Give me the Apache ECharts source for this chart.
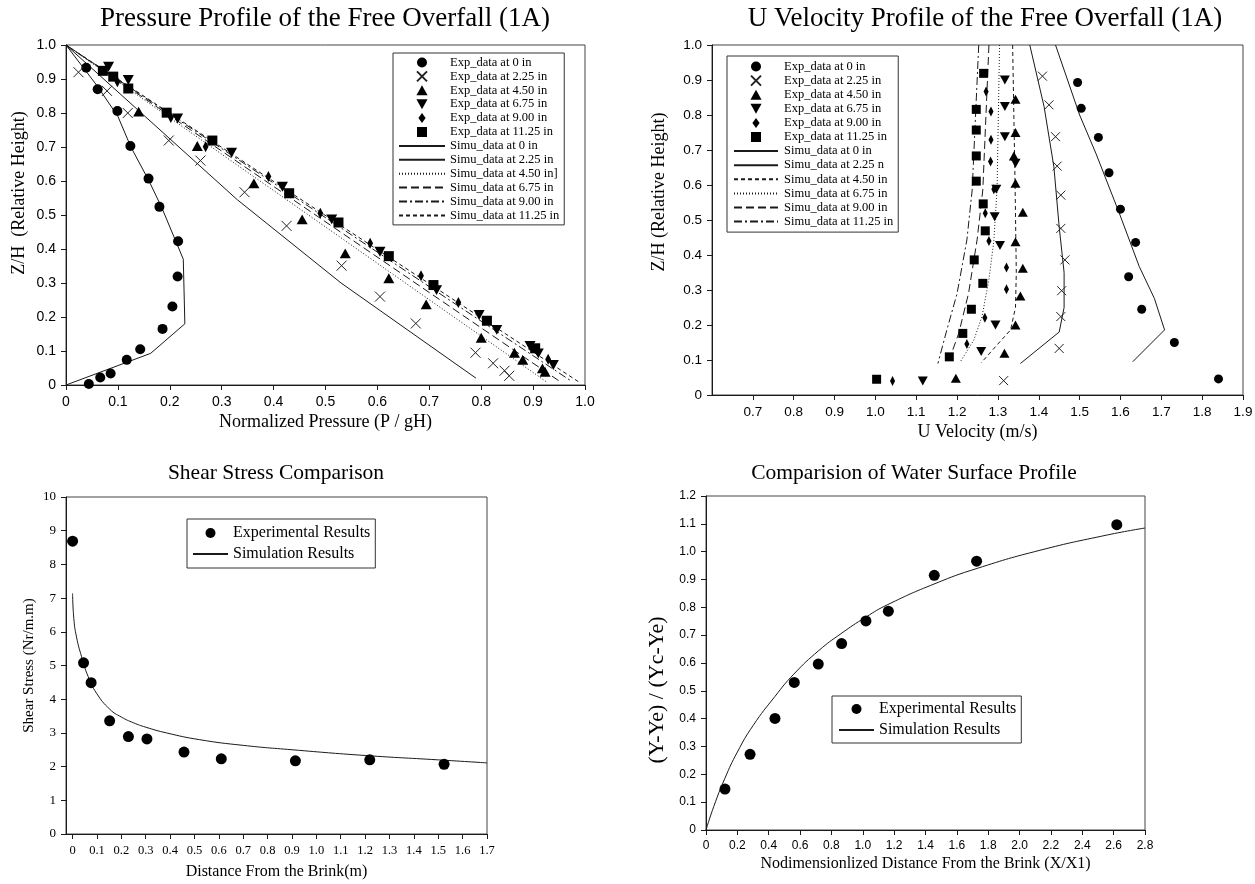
<!DOCTYPE html>
<html>
<head>
<meta charset="utf-8">
<script src="https://cdn.jsdelivr.net/npm/echarts@6.0.0/dist/echarts.min.js"></script>
<style>
  html, body { margin: 0; padding: 0; background: #fff; }
  #main { width: 1255px; height: 884px; }
</style>
</head>
<body>
<div id="main"></div>
<script>
// ---- Pressure profile (top left): [P/gH, Z/H]
var expA0 = [[0.039,0.933],[0.061,0.870],[0.099,0.806],[0.124,0.703],[0.159,0.607],[0.180,0.524],[0.216,0.423],[0.215,0.319],[0.205,0.231],[0.186,0.165],[0.143,0.105],[0.117,0.074],[0.086,0.034],[0.066,0.022],[0.044,0.003]];
var expA1 = [[0.024,0.920],[0.079,0.865],[0.119,0.800],[0.198,0.719],[0.259,0.660],[0.344,0.567],[0.425,0.468],[0.531,0.351],[0.605,0.260],[0.674,0.181],[0.789,0.095],[0.823,0.064],[0.845,0.042],[0.854,0.027]];
var expA2 = [[0.140,0.804],[0.253,0.703],[0.362,0.593],[0.455,0.487],[0.538,0.387],[0.622,0.314],[0.694,0.237],[0.800,0.139],[0.864,0.095],[0.880,0.074],[0.918,0.049],[0.923,0.039]];
var expA3 = [[0.082,0.936],[0.120,0.897],[0.215,0.784],[0.319,0.683],[0.417,0.583],[0.512,0.487],[0.605,0.392],[0.714,0.279],[0.796,0.206],[0.830,0.162],[0.894,0.115],[0.910,0.093],[0.939,0.059]];
var expA4 = [[0.099,0.892],[0.202,0.787],[0.269,0.701],[0.390,0.613],[0.490,0.505],[0.586,0.417],[0.684,0.321],[0.756,0.243],[0.929,0.076]];
var expA5 = [[0.071,0.924],[0.091,0.907],[0.120,0.872],[0.194,0.801],[0.282,0.719],[0.430,0.564],[0.525,0.478],[0.622,0.379],[0.708,0.294],[0.811,0.189],[0.904,0.108]];
var simA0 = [[0,1],[0.06,0.88],[0.10,0.79],[0.125,0.70],[0.16,0.60],[0.185,0.52],[0.226,0.37],[0.229,0.18],[0.163,0.093],[0,0]];
var simA1 = [[0,1],[0.33,0.545],[0.53,0.30],[0.79,0.02]];
var simA2 = [[0,1],[0.925,0.01]];
var simA3 = [[0,1],[0.952,0.01]];
var simA4 = [[0,1],[0.975,0.01]];
var simA5 = [[0,1],[0.987,0.01]];

// ---- U velocity profile (top right): [U, Z/H]
var expB0 = [[1.495,0.893],[1.504,0.819],[1.546,0.736],[1.572,0.635],[1.600,0.531],[1.637,0.436],[1.620,0.338],[1.652,0.245],[1.732,0.150],[1.840,0.046]];
var expB1 = [[1.409,0.911],[1.425,0.829],[1.441,0.738],[1.445,0.654],[1.454,0.571],[1.454,0.476],[1.464,0.386],[1.456,0.298],[1.454,0.224],[1.450,0.133],[1.314,0.041]];
var expB2 = [[1.343,0.845],[1.343,0.750],[1.339,0.683],[1.343,0.605],[1.361,0.522],[1.343,0.438],[1.361,0.362],[1.355,0.283],[1.343,0.200],[1.316,0.119],[1.197,0.048]];
var expB3 = [[1.317,0.900],[1.317,0.824],[1.317,0.738],[1.343,0.662],[1.296,0.588],[1.292,0.509],[1.305,0.427],[1.294,0.200],[1.259,0.124],[1.116,0.040]];
var expB4 = [[1.271,0.867],[1.283,0.810],[1.283,0.729],[1.282,0.667],[1.290,0.588],[1.269,0.519],[1.278,0.440],[1.321,0.364],[1.321,0.302],[1.268,0.221],[1.224,0.146],[1.042,0.040]];
var expB5 = [[1.265,0.919],[1.247,0.816],[1.247,0.757],[1.247,0.683],[1.247,0.611],[1.264,0.546],[1.269,0.469],[1.242,0.386],[1.263,0.319],[1.235,0.245],[1.214,0.176],[1.181,0.109],[1.003,0.045]];
var simB0 = [[1.441,1.0],[1.50,0.80],[1.54,0.69],[1.597,0.52],[1.646,0.367],[1.683,0.276],[1.708,0.186],[1.63,0.095]];
var simB1 = [[1.378,1.0],[1.413,0.824],[1.437,0.652],[1.45,0.48],[1.462,0.35],[1.462,0.25],[1.45,0.18],[1.355,0.09]];
var simB2 = [[1.336,1.0],[1.342,0.6],[1.345,0.35],[1.343,0.25],[1.331,0.186],[1.294,0.138],[1.259,0.092]];
var simB3 = [[1.304,1.0],[1.298,0.59],[1.29,0.44],[1.278,0.33],[1.261,0.224],[1.241,0.157],[1.208,0.095]];
var simB4 = [[1.278,1.0],[1.263,0.586],[1.249,0.443],[1.228,0.29],[1.204,0.176],[1.179,0.095]];
var simB5 = [[1.253,1.0],[1.237,0.586],[1.224,0.443],[1.20,0.29],[1.175,0.186],[1.153,0.09]];

// ---- Shear stress (bottom left): [distance m, stress]
var expC = [[0,8.69],[0.045,5.08],[0.076,4.49],[0.152,3.36],[0.229,2.89],[0.305,2.82],[0.457,2.43],[0.61,2.23],[0.914,2.17],[1.219,2.2],[1.524,2.07]];
var simC = [[0,7.14],[0.005,6.4],[0.016,5.85],[0.037,5.26],[0.064,4.67],[0.098,4.18],[0.153,3.70],[0.2,3.47],[0.25,3.30],[0.3,3.17],[0.385,3.0],[0.52,2.8],[0.7,2.63],[0.9,2.5],[1.2,2.33],[1.5,2.2],[1.7,2.11]];
var ticksC = [0,0.1,0.2,0.3,0.4,0.5,0.6,0.7,0.8,0.9,1.0,1.1,1.2,1.3,1.4,1.5,1.6,1.7];

// ---- Water surface (bottom right): [X/X1, (Y-Ye)/(Yc-Ye)]
var expD = [[0.121,0.147],[0.281,0.272],[0.44,0.401],[0.563,0.53],[0.716,0.596],[0.865,0.67],[1.02,0.751],[1.163,0.786],[1.456,0.915],[1.726,0.966],[2.62,1.097]];
var simD = [[0,0],[0.05,0.085],[0.12,0.185],[0.2,0.28],[0.3,0.375],[0.44,0.48],[0.56,0.56],[0.72,0.645],[0.86,0.705],[1.02,0.765],[1.16,0.81],[1.46,0.885],[1.73,0.94],[2.13,1.005],[2.56,1.06],[2.8,1.085]];

var SERIF = '"Liberation Serif", "Times New Roman", serif';
var SANS = '"Liberation Sans", Arial, sans-serif';
var INK = '#000';
var LINE = '#1a1a1a';

// marker shapes as paths so the legend keeps their proportions
var X_MARK = 'path://M0,0L10,10M10,0L0,10';
var UP_TRI = 'path://M5,0L10,9L0,9Z';
var DOWN_TRI = 'path://M0,0L10,0L5,9Z';
var DIAMOND = 'path://M4,0L8,5.5L4,11L0,5.5Z';
var SQUARE = 'path://M0,0L10,0L10,10L0,10Z';

function fmt1(v) {
  return Math.abs(v) < 1e-9 ? '0' : v.toFixed(1);
}

function exp(name, data, idx, symbol, size) {
  var s = {
    name: name, type: 'scatter', xAxisIndex: idx, yAxisIndex: idx,
    data: data, symbol: symbol, symbolSize: size, symbolKeepAspect: true, z: 5,
    itemStyle: { color: INK, opacity: 1 }
  };
  if (symbol === X_MARK) {
    s.itemStyle = { color: 'rgba(0,0,0,0)', borderColor: '#222', borderWidth: 1, opacity: 1 };
  }
  return s;
}

function sim(name, data, idx, dash, smooth) {
  return {
    name: name, type: 'line', xAxisIndex: idx, yAxisIndex: idx,
    data: data, symbol: 'none', smooth: smooth || false, z: 3,
    lineStyle: { color: LINE, width: 1, type: dash || 'solid' },
    itemStyle: { color: LINE }
  };
}

function axis(idx, min, max, interval, font, size, extra) {
  var a = {
    type: 'value', gridIndex: idx, min: min, max: max, interval: interval,
    axisLine: { show: true, onZero: false, lineStyle: { color: LINE, width: 1 } },
    axisTick: { show: true, inside: false, length: 5, lineStyle: { color: LINE } },
    splitLine: { show: false },
    axisLabel: { color: INK, fontFamily: font, fontSize: size, margin: 10, formatter: fmt1 },
    nameLocation: 'middle'
  };
  for (var k in extra) a[k] = extra[k];
  return a;
}

// line entries get no marker in the legend
function legendNames(names) {
  return names.map(function (n) {
    return n.indexOf('Simu') >= 0 || n.indexOf('Simulation') >= 0
      ? { name: n, itemStyle: { opacity: 0 } } : { name: n };
  });
}

function legend(left, top, names, fontSize, itemWidth, itemGap, pad, textGap) {
  return {
    left: left, top: top, orient: 'vertical', data: legendNames(names),
    selectedMode: false, itemWidth: itemWidth, itemHeight: 10,
    itemGap: itemGap, padding: pad,
    borderColor: '#333', borderWidth: 1, backgroundColor: '#fff',
    textStyle: { color: INK, fontFamily: SERIF, fontSize: fontSize, padding: [0, 0, 0, textGap] },
    formatter: function (n) { return n.slice(2); }
  };
}

var namesA = ['A|Exp_data at 0 in','A|Exp_data at 2.25 in','A|Exp_data at 4.50 in','A|Exp_data at 6.75 in','A|Exp_data at 9.00 in','A|Exp_data at 11.25 in',
  'A|Simu_data at 0 in','A|Simu_data at 2.25 in','A|Simu_data at 4.50 in]','A|Simu_data at 6.75 in','A|Simu_data at 9.00 in','A|Simu_data at 11.25 in'];
var namesB = ['B|Exp_data at 0 in','B|Exp_data at 2.25 in','B|Exp_data at 4.50 in','B|Exp_data at 6.75 in','B|Exp_data at 9.00 in','B|Exp_data at 11.25 in',
  'B|Simu_data at 0 in','B|Simu_data at 2.25 n','B|Simu_data at 4.50 in','B|Simu_data at 6.75 in','B|Simu_data at 9.00 in','B|Simu_data at 11.25 in'];
var namesC = ['C|Experimental Results', 'C|Simulation Results'];
var namesD = ['D|Experimental Results', 'D|Simulation Results'];

var DOT = [1, 2], LONG = [8, 4], DASHDOT = [8, 3, 2, 3], SHORT = [4, 3];

function titleText(text, left, top, size) {
  return { text: text, left: left, top: top, textAlign: 'center', padding: 0,
    textStyle: { fontFamily: SERIF, fontWeight: 'normal', fontSize: size, color: INK } };
}

function nameStyle(size, pad) {
  return { color: INK, fontFamily: SERIF, fontSize: size, padding: pad || 0 };
}

var chart = echarts.init(document.getElementById('main'), null, { renderer: 'canvas' });

chart.setOption({
  backgroundColor: '#fff',
  animation: false,
  title: [
    titleText('Pressure Profile of the Free Overfall (1A)', 325, 5, 27),
    titleText('U Velocity Profile of the Free Overfall (1A)', 985, 5, 27),
    titleText('Shear Stress Comparison', 276, 462, 21.5),
    titleText('Comparision of Water Surface Profile', 914, 462, 21.5)
  ],
  grid: [
    { left: 66, top: 45, width: 519, height: 340, show: true, borderColor: '#444', borderWidth: 1, outerBoundsMode: 'none' },
    { left: 712, top: 45, width: 531, height: 350, show: true, borderColor: '#444', borderWidth: 1, outerBoundsMode: 'none' },
    { left: 66, top: 497, width: 421, height: 337, show: true, borderColor: '#444', borderWidth: 1, outerBoundsMode: 'none' },
    { left: 706, top: 496, width: 439, height: 334, show: true, borderColor: '#444', borderWidth: 1, outerBoundsMode: 'none' }
  ],
  xAxis: [
    axis(0, 0, 1, 0.1, SANS, 14, { name: 'Normalized Pressure (P / gH)', nameGap: 28, nameTextStyle: nameStyle(18) }),
    axis(1, 0.6, 1.9, 0.1, SANS, 13.5, { name: 'U Velocity (m/s)', nameGap: 28, nameTextStyle: nameStyle(18) }),
    axis(2, -0.027, 1.7, null, SERIF, 12.5, { name: 'Distance From the Brink(m)', nameGap: 30, nameTextStyle: nameStyle(16) }),
    axis(3, 0, 2.8, 0.2, SANS, 12, { name: 'Nodimensionlized Distance From the Brink (X/X1)', nameGap: 26, nameTextStyle: nameStyle(16) })
  ],
  yAxis: [
    axis(0, 0, 1, 0.1, SANS, 14, { name: 'Z/H  (Relative Height)', nameGap: 38, nameTextStyle: nameStyle(18, [0, 0, 0, 44]) }),
    axis(1, 0, 1, 0.1, SANS, 13.5, { name: 'Z/H (Relative Height)', nameGap: 44, nameTextStyle: nameStyle(18, [0, 0, 0, 56]) }),
    axis(2, 0, 10, 1, SERIF, 13, { name: 'Shear Stress (Nr/m.m)', nameGap: 29, nameTextStyle: nameStyle(15) }),
    axis(3, 0, 1.2, 0.1, SANS, 12, { name: '(Y-Ye) / (Yc-Ye)', nameGap: 38, nameTextStyle: nameStyle(22, [0, 54, 0, 0]) })
  ],
  legend: [
    legend(393, 53, namesA, 12.5, 46, 0.9, [3, 5, 3, 5], 0),
    legend(727, 56, namesB, 12.5, 44, 1.1, [4, 5, 4, 6], 1),
    legend(187, 519, namesC, 16, 35, 5, [6, 5, 6, 5], 0),
    legend(832, 696, namesD, 16, 35, 5, [5, 5, 5, 6], 0)
  ],
  series: [
    sim(namesA[6], simA0, 0), sim(namesA[7], simA1, 0), sim(namesA[8], simA2, 0, DOT),
    sim(namesA[9], simA3, 0, LONG), sim(namesA[10], simA4, 0, DASHDOT), sim(namesA[11], simA5, 0, SHORT),
    exp(namesA[0], expA0, 0, 'circle', 10), exp(namesA[1], expA1, 0, X_MARK, 10),
    exp(namesA[2], expA2, 0, UP_TRI, 11), exp(namesA[3], expA3, 0, DOWN_TRI, 11),
    exp(namesA[4], expA4, 0, DIAMOND, [8, 11]), exp(namesA[5], expA5, 0, SQUARE, 10),

    sim(namesB[6], simB0, 1), sim(namesB[7], simB1, 1), sim(namesB[8], simB2, 1, SHORT),
    sim(namesB[9], simB3, 1, DOT), sim(namesB[10], simB4, 1, LONG), sim(namesB[11], simB5, 1, DASHDOT),
    exp(namesB[0], expB0, 1, 'circle', 9), exp(namesB[1], expB1, 1, X_MARK, 9),
    exp(namesB[2], expB2, 1, UP_TRI, 10), exp(namesB[3], expB3, 1, DOWN_TRI, 10),
    exp(namesB[4], expB4, 1, DIAMOND, [7, 10]), exp(namesB[5], expB5, 1, SQUARE, 9),

    sim(namesC[1], simC, 2, 'solid', 0.5), exp(namesC[0], expC, 2, 'circle', 11),
    sim(namesD[1], simD, 3, 'solid', 0.5), exp(namesD[0], expD, 3, 'circle', 11)
  ]
});

// custom ticks for the shear stress distance axis (starts slightly left of 0),
// and the velocity axis hides its first label
chart.setOption({
  xAxis: [{}, { axisLabel: { showMinLabel: false } }, {
    axisTick: { customValues: ticksC },
    axisLabel: { customValues: ticksC, formatter: fmt1 }
  }, {}],
  yAxis: [{}, {}, { axisLabel: { formatter: function (v) { return String(v); } } }, {}]
});
</script>
</body>
</html>
